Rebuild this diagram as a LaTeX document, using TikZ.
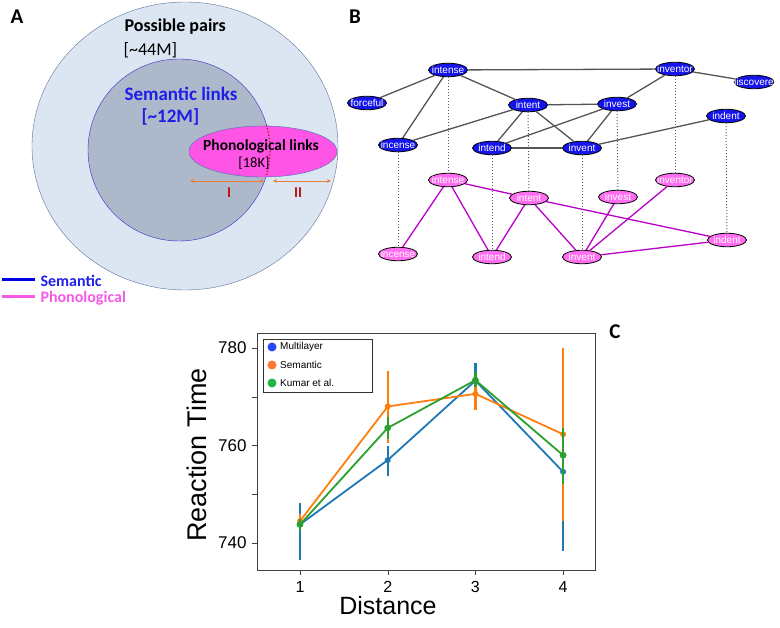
\documentclass[tikz,border=0pt]{standalone}
\usepackage{fontspec}
\setmainfont{Carlito}
\newfontfamily\arialfont{Liberation Sans}
\usetikzlibrary{shapes.geometric}

\definecolor{pairsfill}{RGB}{220,230,242}
\definecolor{pairsline}{RGB}{95,115,150}
\definecolor{semfill}{RGB}{173,185,202}
\definecolor{semline}{RGB}{45,45,200}
\definecolor{phofill}{RGB}{255,85,230}
\definecolor{pholine}{RGB}{70,110,180}
\definecolor{semtext}{RGB}{30,30,230}
\definecolor{darkred}{RGB}{190,20,20}
\definecolor{arrowcol}{RGB}{237,125,49}
\definecolor{legsem}{RGB}{0,0,230}
\definecolor{legpho}{RGB}{245,90,230}
\definecolor{semnodefill}{RGB}{20,20,235}
\definecolor{phonodefill}{RGB}{255,110,240}
\definecolor{edgegray}{RGB}{85,85,85}
\definecolor{edgepurple}{RGB}{185,0,200}
\definecolor{mlcol}{RGB}{31,119,180}
\definecolor{semcol}{RGB}{255,127,14}
\definecolor{kumcol}{RGB}{44,160,44}
\definecolor{mlleg}{RGB}{40,70,255}
\definecolor{semleg}{RGB}{255,120,50}
\definecolor{kumleg}{RGB}{30,180,70}

\begin{document}
\begin{tikzpicture}[x=1pt, y=-1pt, >=stealth]
        \tikzstyle{panel} = [font=\bfseries\fontsize{21}{23}\selectfont]
        \tikzstyle{semnode} = [ellipse, draw=black, thick, fill=semnodefill, text=white, font=\arialfont\fontsize{10}{11}\selectfont, minimum width=39pt, minimum height=13.5pt, inner xsep=-9pt, inner ysep=0pt]
        \tikzstyle{phonode} = [semnode, fill=phonodefill]
        \tikzstyle{semedge} = [draw=edgegray, line width=1.3pt]
        \tikzstyle{phoedge} = [draw=edgepurple, line width=1.3pt]
        \tikzstyle{layer} = [draw=black!65, dotted, line width=1pt]
        \tikzstyle{errbar} = [line width=2.4pt]
        \tikzstyle{series} = [line width=1.8pt]
        \tikzstyle{ticklab} = [font=\arialfont\fontsize{17}{19}\selectfont]
        \tikzstyle{legtext} = [anchor=west, font=\arialfont\fontsize{10}{12}\selectfont, inner sep=0pt]

    \useasboundingbox (0,0) rectangle (780,628);

    % panel A: sets of pairs
    \node[panel] (A) at (17,17) {A};
    \node[ellipse, draw=pairsline, fill=pairsfill, minimum width=306pt, minimum height=288pt] (pairs) at (185,146) {};
    \node[circle, draw=semline, fill=semfill, minimum size=182pt] (semset) at (179,150) {};
    \node[ellipse, draw=pholine, fill=phofill, minimum width=148pt, minimum height=51pt] (phoset) at (263,151.5) {};
    \draw[darkred, dotted, line width=1.3pt] (semset.center) ++(-16:91) arc (-16:16:91);

    \node[anchor=west, font=\bfseries\fontsize{18}{20}\selectfont] (pairsname) at (121,27) {Possible pairs};
    \node[anchor=west, font=\fontsize{18}{20}\selectfont] (pairsnum) at (120,50) {[\textasciitilde 44M]};
    \node[anchor=west, text=semtext, font=\bfseries\fontsize{19}{21}\selectfont] (semname) at (121,94) {Semantic links};
    \node[anchor=west, text=semtext, font=\bfseries\fontsize{19}{21}\selectfont] (semnum) at (138,117) {[\textasciitilde 12M]};
    \node[font=\bfseries\fontsize{15.5}{17}\selectfont] (phoname) at (261,146) {Phonological links};
    \node[font=\fontsize{14.5}{16}\selectfont] (phonum) at (254,163) {[18K]};

    \draw[<->, arrowcol, thick] (190,181) -- (264,181);
    \draw[<->, arrowcol, thick] (273,181) -- (331,181);
    \node[text=darkred, font=\bfseries\fontsize{15}{17}\selectfont] (one) at (229,193) {I};
    \node[text=darkred, font=\bfseries\fontsize{15}{17}\selectfont] (two) at (298,193) {II};

    \draw[legsem, line width=3pt] (2,280) -- (35,280);
    \node[anchor=west, text=semtext, font=\bfseries\fontsize{16}{18}\selectfont] (semkey) at (37,281) {Semantic};
    \draw[legpho, line width=3pt] (2,297) -- (35,297);
    \node[anchor=west, text=legpho, font=\bfseries\fontsize{16}{18}\selectfont] (phokey) at (37,298) {Phonological};

    % panel B: two layers
    \node[panel] (B) at (355,17) {B};
    \node[semnode] (sintense) at (448,70) {intense};
    \node[semnode] (sinventor) at (675,69) {inventor};
    \node[semnode] (sdiscoverer) at (754,82) {discoverer};
    \node[semnode] (sforceful) at (367,103) {forceful};
    \node[semnode] (sintent) at (528,105) {intent};
    \node[semnode] (sinvest) at (617,104) {invest};
    \node[semnode] (sindent) at (726,116) {indent};
    \node[semnode] (sincense) at (398,145) {incense};
    \node[semnode] (sintend) at (492,148) {intend};
    \node[semnode] (sinvent) at (582,148) {invent};

    \node[phonode] (pintense) at (448,180) {intense};
    \node[phonode] (pinventor) at (675,180) {inventor};
    \node[phonode] (pintent) at (529,198) {intent};
    \node[phonode] (pinvest) at (618,197) {invest};
    \node[phonode] (pindent) at (727,240) {indent};
    \node[phonode] (pincense) at (398,254) {incense};
    \node[phonode] (pintend) at (492,257) {intend};
    \node[phonode] (pinvent) at (582,257) {invent};

    \foreach \a/\b in {intense/inventor, intense/forceful, intense/incense, intense/intent,
        inventor/discoverer, inventor/invest, intent/invest, intent/incense, intent/intend,
        intent/invent, invest/intend, invest/invent, intend/invent, invent/indent}
        \draw[semedge] (s\a) -- (s\b);
    \foreach \a/\b in {intense/intent, intense/incense, intense/intend, intent/intend,
        intent/invent, intent/indent, invest/invent, inventor/invent, invent/indent}
        \draw[phoedge] (p\a) -- (p\b);
    \foreach \w in {intense, inventor, intent, invest, indent, incense, intend, invent}
        \draw[layer] (s\w) -- (p\w);

    % panel C: reaction times
    \node[panel] (C) at (615,332) {C};
    \foreach \v in {740,750,...,780}
        \draw[black!75] (257,{348+(780-\v)*4.875}) -- ++(-5,0);
    \foreach \v in {740,760,780}
        \node[ticklab, anchor=east] at (250,{348+(780-\v)*4.875}) {\v};
    \foreach \d in {1,...,4} {
        \draw[black!75] ({212.3+87.7*\d},570) -- ++(0,5);
        \node[ticklab, font=\arialfont\fontsize{16}{18}\selectfont] at ({212.3+87.7*\d},587) {\d};
    }
    \node[font=\arialfont\fontsize{27}{30}\selectfont, rotate=90] (ylab) at (197,455) {Reaction Time};
    \node[font=\arialfont\fontsize{25}{28}\selectfont] (xlab) at (388,606) {Distance};

    \begin{scope}[shift={(212.3pt,-4150.5pt)}, x=87.7pt, y=4.875pt]
        % Multilayer
        \foreach \d/\lo/\hi in {1/736.5/748.2, 2/753.7/759.8, 3/770/777, 4/738.4/768}
            \draw[errbar, mlcol] (\d,\lo) -- (\d,\hi);
        \draw[series, mlcol] plot coordinates {(1,743.8) (2,757) (3,773.3) (4,754.6)};
        \foreach \d/\v in {1/743.8, 2/757, 3/773.3, 4/754.6}
            \fill[mlcol] (\d,\v) circle (3pt);
        % Semantic
        \foreach \d/\lo/\hi in {1/743/746, 2/760.5/775.3, 3/767.3/774.5, 4/744.5/780}
            \draw[errbar, semcol] (\d,\lo) -- (\d,\hi);
        \draw[series, semcol] plot coordinates {(1,744.5) (2,768) (3,770.6) (4,762.3)};
        \foreach \d/\v in {1/744.5, 2/768, 3/770.6, 4/762.3}
            \fill[semcol] (\d,\v) circle (3pt);
        % Kumar et al.
        \foreach \d/\lo/\hi in {1/742.5/745, 2/761.4/765.9, 3/772/775, 4/752.2/763.6}
            \draw[errbar, kumcol] (\d,\lo) -- (\d,\hi);
        \draw[series, kumcol] plot coordinates {(1,743.8) (2,763.6) (3,773.4) (4,758)};
        \foreach \d/\v in {1/743.8, 2/763.6, 3/773.4, 4/758}
            \fill[kumcol] (\d,\v) circle (3.4pt);
    \end{scope}
    \draw[black!75] (257,333) rectangle (595,570);

    \node[draw=black!80, fill=white, minimum width=109pt, minimum height=53pt, inner sep=0pt] (legend) at (317.5,365.5) {};
    \fill[mlleg] (272,347) circle (4.5);
    \node[legtext] (mlkey) at (280,347) {Multilayer};
    \fill[semleg] (272,365) circle (4.5);
    \node[legtext] (semkeyc) at (280,365) {Semantic};
    \fill[kumleg] (272,383) circle (4.5);
    \node[legtext] (kumkey) at (280,383) {Kumar et al.};

\end{tikzpicture}
\end{document}
